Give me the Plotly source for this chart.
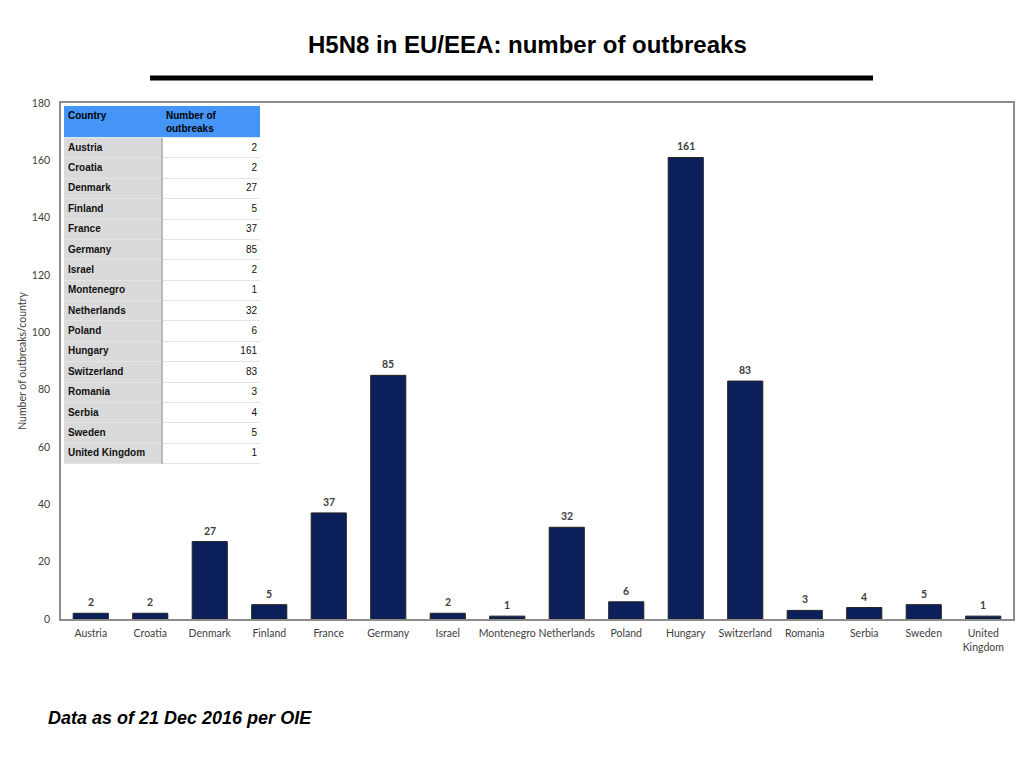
import plotly.graph_objects as go

countries = ["Austria", "Croatia", "Denmark", "Finland", "France", "Germany", "Israel",
             "Montenegro", "Netherlands", "Poland", "Hungary", "Switzerland", "Romania",
             "Serbia", "Sweden", "United Kingdom"]
outbreaks = [2, 2, 27, 5, 37, 85, 2, 1, 32, 6, 161, 83, 3, 4, 5, 1]
tick_labels = [c.replace("United Kingdom", "United<br>Kingdom") for c in countries]
y_ticks = [0, 20, 40, 60, 80, 100, 120, 140, 160, 180]
table_header = ["Country", "Number of<br>outbreaks"]

W, H = 1024, 768
L, R, T, B = 61, 1013, 103, 619


def px_x(v):
    return (v - L) / (R - L)


def px_y(v):
    return (B - v) / (B - T)


fig = go.Figure()

fig.add_trace(go.Bar(
    x=countries, y=outbreaks,
    marker=dict(color="#0B1F5B", line=dict(color="#222222", width=1)),
    width=0.59, hoverinfo="x+y", showlegend=False,
))

for c, v in zip(countries, outbreaks):
    fig.add_annotation(x=c, y=v, text=str(v), showarrow=False, yanchor="bottom",
                       yshift=3, font=dict(family="Lato", size=10.5, color="#404040", weight="bold"))

# ---- inset table on its own axes (units: pixels, y downward) ----
tbl_x0, tbl_x1, tbl_y0, tbl_y1 = 64, 260, 106, 464
header_h = 32
n = len(countries)
row_h = (tbl_y1 - tbl_y0 - header_h) / n
edges = [0, header_h] + [header_h + (i + 1) * row_h for i in range(n)]
z = [[2, 2]] + [[1, 0] for _ in range(n)]

fig.add_shape(type="rect", xref="x2", yref="y2", x0=0, x1=2, y0=0, y1=edges[-1],
              fillcolor="#E4E4E4", line=dict(width=0), layer="below")

fig.add_trace(go.Heatmap(
    z=z, x=[0, 1, 2], y=edges, xaxis="x2", yaxis="y2",
    colorscale=[[0, "#FFFFFF"], [0.5, "#DADADA"], [1, "#4495F7"]], zmin=0, zmax=2,
    showscale=False, xgap=0, ygap=1, hoverinfo="skip",
))

row_centers = [header_h + (i + 0.5) * row_h for i in range(n)]
fig.add_trace(go.Scatter(
    x=[0.04] * n, y=row_centers, mode="text", text=countries, textposition="middle right",
    texttemplate="<b>%{text}</b>",
    textfont=dict(family="Liberation Sans", size=10, color="#111111"),
    xaxis="x2", yaxis="y2", hoverinfo="skip", showlegend=False,
))
fig.add_trace(go.Scatter(
    x=[1.97] * n, y=row_centers, mode="text", text=[str(v) for v in outbreaks],
    textposition="middle left",
    textfont=dict(family="Liberation Sans", size=10, color="#111111"),
    xaxis="x2", yaxis="y2", hoverinfo="skip", showlegend=False,
))
fig.add_trace(go.Scatter(
    x=[0.04, 1.04], y=[5.5, 5.5], mode="text", text=table_header,
    textposition="bottom right", texttemplate="<b>%{text}</b>",
    textfont=dict(family="Liberation Sans", size=10, color="#000000"),
    xaxis="x2", yaxis="y2", hoverinfo="skip", showlegend=False,
))

# column divider
fig.add_shape(type="line", xref="x2", yref="y2", x0=1, x1=1, y0=header_h, y1=edges[-1],
              line=dict(color="#9A9A9A", width=1.2))

# title underline
fig.add_shape(type="line", xref="paper", yref="paper",
              x0=px_x(150), x1=px_x(873), y0=px_y(78), y1=px_y(78),
              line=dict(color="#000000", width=5))

fig.add_annotation(xref="paper", yref="paper", x=px_x(527), y=px_y(44),
                   text="<b>H5N8 in EU/EEA: number of outbreaks</b>", showarrow=False,
                   xanchor="center", yanchor="middle",
                   font=dict(family="Liberation Sans", size=24, color="#000000"))

fig.add_annotation(xref="paper", yref="paper", x=px_x(46), y=px_y(718),
                   text="<b><i>Data as of 21 Dec 2016 per OIE</i></b>", showarrow=False,
                   xanchor="left", yanchor="middle",
                   font=dict(family="Liberation Sans", size=18, color="#000000"))

fig.update_layout(
    width=W, height=H,
    margin=dict(l=L, r=W - R, t=T, b=H - B, pad=0, autoexpand=False),
    paper_bgcolor="white", plot_bgcolor="white",
    showlegend=False,
    xaxis=dict(
        domain=[0, 1],
        tickmode="array", tickvals=countries, ticktext=tick_labels,
        tickfont=dict(family="Lato", size=10.5, color="#404040"),
        showline=True, linecolor="#8C8C8C", linewidth=1.5, mirror=True,
        ticks="", showgrid=False, ticklabelstandoff=4,
    ),
    yaxis=dict(
        range=[0, 180], tickvals=y_ticks,
        tickfont=dict(family="Lato", size=10.5, color="#404040"),
        showline=True, linecolor="#8C8C8C", linewidth=1.5, mirror=True,
        ticks="", showgrid=False, zeroline=False, ticklabelstandoff=7,
        title=dict(text="Number of outbreaks/country", standoff=3,
                   font=dict(family="Lato", size=10.5, color="#404040")),
    ),
    xaxis2=dict(domain=[px_x(tbl_x0), px_x(tbl_x1)], range=[0, 2], anchor="y2",
                visible=False, fixedrange=True),
    yaxis2=dict(domain=[px_y(tbl_y1), px_y(tbl_y0)], range=[edges[-1], 0], anchor="x2",
                visible=False, fixedrange=True),
)

fig.write_html("out.html", config={"displayModeBar": False},
               post_script="document.body.style.margin='0';document.body.style.overflow='hidden';")
